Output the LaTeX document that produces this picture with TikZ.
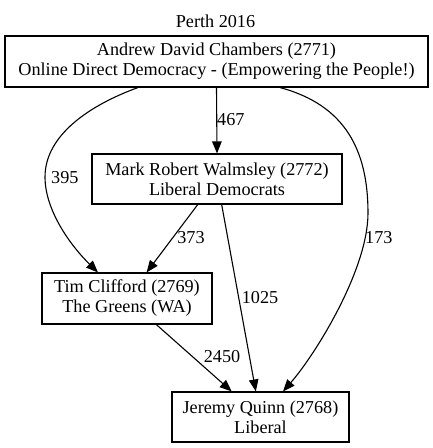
\documentclass[tikz,border=0pt]{standalone}
\usepackage{fontspec}
\setmainfont{Liberation Serif}
\usetikzlibrary{arrows.meta}
\begin{document}
\begin{tikzpicture}[x=1pt,y=-1pt,
  box/.style={draw,line width=1.1pt,rectangle,align=center,inner sep=0pt,font=\fontsize{18.2}{20}\selectfont},
  lbl/.style={inner sep=0pt,font=\fontsize{18.2}{20}\selectfont},
  edge/.style={line width=1.1pt,-{Triangle[length=12pt,width=9.5pt]}}]
\useasboundingbox (0,0) rectangle (433,448);
\node[lbl] (title) at (215.5,21) {Perth 2016};
\node[box,minimum width=423pt,minimum height=51pt] (A) at (216.5,61.5) {Andrew David Chambers (2771)\\Online Direct Democracy - (Empowering the People!)};
\node[box,minimum width=250pt,minimum height=50pt] (B) at (217,179) {Mark Robert Walmsley (2772)\\Liberal Democrats};
\node[box,minimum width=170pt,minimum height=51pt] (C) at (127,298.5) {Tim Clifford (2769)\\The Greens (WA)};
\node[box,minimum width=177pt,minimum height=50pt] (D) at (260.5,417) {Jeremy Quinn (2768)\\Liberal};
\draw[edge] (A.south) -- (B.north);
\draw[edge] ([xshift=-78.5pt]A.south) .. controls (90,105) and (45,135) .. (45,177)
  .. controls (45,210) and (70,245) .. ([xshift=-29pt]C.north);
\draw[edge] ([xshift=63.5pt]A.south) .. controls (345,105) and (368,150) .. (368,213)
  .. controls (368,270) and (315,355) .. ([xshift=22.5pt]D.north);
\draw[edge] (B) -- (C);
\draw[edge] (B) -- (D);
\draw[edge] (C) -- (D);
\node[lbl,anchor=west] (l467) at (217,120) {467};
\node[lbl,anchor=west] (l395) at (51,178) {395};
\node[lbl] (l373) at (191,238) {373};
\node[lbl,anchor=west] (l173) at (365,238) {173};
\node[lbl] (l1025) at (260,298) {1025};
\node[lbl] (l2450) at (222,357) {2450};
\end{tikzpicture}
\end{document}
